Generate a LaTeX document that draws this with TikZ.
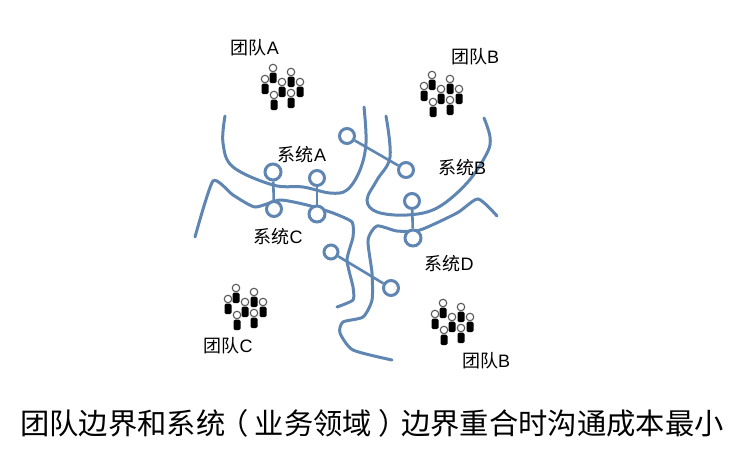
\documentclass[tikz,border=0pt]{standalone}
\usepackage{fontspec}
\setmainfont{Liberation Sans}
\newfontfamily\cjk{Noto Sans CJK SC}
\usetikzlibrary{positioning}
\definecolor{bluegrey}{HTML}{5F86B3}
\tikzset{
    boundary/.style={draw=bluegrey, line width=3pt, line cap=round},
    port/.style={draw=bluegrey, circle, fill=white, line width=3pt, minimum width=15pt, inner sep=0pt},
    link/.style={draw=bluegrey, line width=2.6pt},
    label/.style={font=\fontsize{18}{18}\selectfont, inner sep=0pt},
    head/.style={draw=black!65, circle, fill=white, line width=1.1pt, minimum width=7.5pt, inner sep=0pt},
    body/.style={fill=black, rounded corners=1.5pt, minimum width=7pt, minimum height=10.5pt, inner sep=0pt},
}
\begin{document}
\begin{tikzpicture}[x=1pt, y=-1pt]
    \useasboundingbox (0,0) rectangle (742,461);

    % boundaries
    \draw [boundary] plot [smooth, tension=0.6] coordinates {(225,116) (223,143) (233,167) (273,185) (303,187) (330,193) (347,190) (360,170) (366,143) (364,107)};
    \draw [boundary] plot [smooth, tension=0.35] coordinates {(195,237) (213,181) (233,195) (255,207) (280,200) (307,205) (333,213) (352,222) (353,237) (347,260) (353,287) (353,300) (337,307)};
    \draw [boundary] plot [smooth, tension=0.6] coordinates {(386,116) (390,157) (377,180) (367,200) (377,212) (407,215) (437,208) (467,183) (487,153) (490,137) (484,118)};
    \draw [boundary] plot [smooth, tension=0.4] coordinates {(497,216) (478,199) (457,213) (420,230) (397,231) (377,226) (368,240) (372,273) (372,300) (363,317) (343,322) (340,333) (353,350) (392,360)};

    % ports
    \node [port, minimum width=16pt] (p1) at (273,172) {};
    \node [port] (p2) at (317,178) {};
    \node [port] (p3) at (274,209) {};
    \node [port, minimum width=16pt] (p4) at (317,214) {};
    \node [port] (p5) at (347,136) {};
    \node [port] (p6) at (406,170) {};
    \node [port] (p7) at (412,201) {};
    \node [port, minimum width=16pt] (p8) at (413,238) {};
    \node [port, minimum width=14pt] (p9) at (331,252) {};
    \node [port] (p10) at (391,288) {};

    \draw [link] (p1) -- (p3);
    \draw [link] (p2) -- (p4);
    \draw [link] (p5) -- (p6);
    \draw [link] (p7) -- (p8);
    \draw [link] (p9) -- (p10);

    % people
    \foreach \tx/\ty/\tn in {0/0/a, 159/7/b, -37/220/c, 170/235/d} {
        \foreach \px/\py/\pn in {273/68/1, 291/72/2, 265/79/3, 282/82/4, 300/82/5, 274/95/6, 291/93/7} {
            \node [head] (h\tn\pn) at (\px+\tx,\py+\ty) {};
            \node [body, below=0pt of h\tn\pn] (b\tn\pn) {};
        }
    }

    % labels
    \node [label] (teamA) at (255,48) {{\cjk 团队}A};
    \node [label] (teamB) at (475,57) {{\cjk 团队}B};
    \node [label] (sysA) at (302,155) {{\cjk 系统}A};
    \node [label] (sysB) at (462,168) {{\cjk 系统}B};
    \node [label] (sysC) at (278,237) {{\cjk 系统}C};
    \node [label] (sysD) at (449,264) {{\cjk 系统}D};
    \node [label] (teamC) at (228,346) {{\cjk 团队}C};
    \node [label] (teamD) at (486,361) {{\cjk 团队}B};

    \node [font=\fontsize{29.3}{29.3}\selectfont\cjk, inner sep=0pt] (title) at (372,423) {团队边界和系统\hspace{-.22em}（\hspace{.22em}业务领域\hspace{.22em}）\hspace{-.22em}边界重合时沟通成本最小};
\end{tikzpicture}
\end{document}
